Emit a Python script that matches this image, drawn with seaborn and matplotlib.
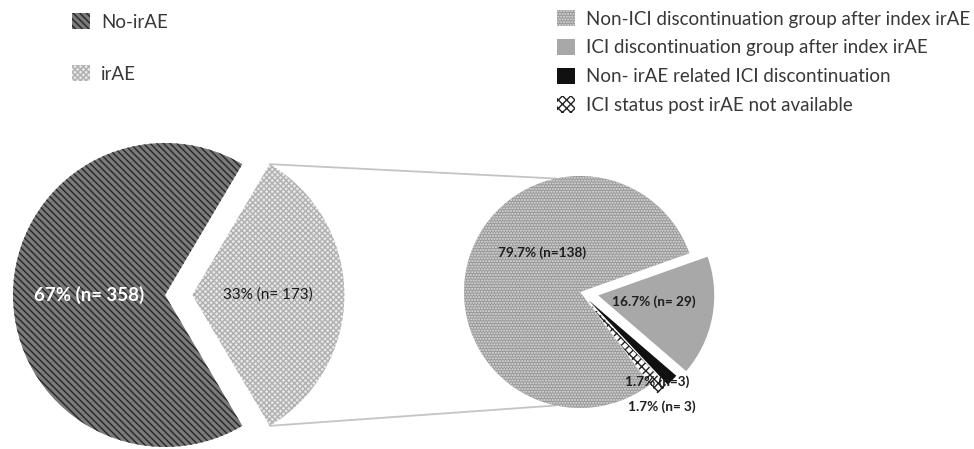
import matplotlib
matplotlib.use("Agg")
import numpy as np
import matplotlib.pyplot as plt
from matplotlib.patches import Patch
import seaborn as sns

# Overall cohort split
overall_labels = ["No-irAE", "irAE"]
overall_pct = [67, 33]
overall_n = [358, 173]

# Breakdown of the irAE group
detail_labels = [
    "Non-ICI discontinuation group after index irAE",
    "ICI discontinuation group after index irAE",
    "Non- irAE related ICI discontinuation",
    "ICI status post irAE not available",
]
detail_pct = [79.7, 16.7, 1.7, 1.7]
detail_n = [138, 29, 3, 3]
detail_gap = ["", " ", "", " "]

sns.set_theme(style="white")
plt.rcParams["font.family"] = ["Lato", "DejaVu Sans"]
plt.rcParams["hatch.linewidth"] = 1.0

# fill styles (face, hatch colour, hatch)
overall_style = [
    ("#7a7a7a", "#262626", "\\\\\\\\\\"),
    ("#e8e8e8", "#b0b0b0", "xxxxxx"),
]
detail_style = [
    ("#989898", "#dedede", "......"),
    ("#a8a8a8", "#a8a8a8", None),
    ("#111111", "#111111", None),
    ("#ffffff", "#222222", "xxxx"),
]

fig = plt.figure(figsize=(9.74, 4.49), dpi=100)
ax = fig.add_axes([0, 0, 1, 1])

# ---- main pie ----
R1 = 152
c1 = (165, 154)
start1 = 180 - 360 * overall_pct[0] / sum(overall_pct) / 2
w1, _ = ax.pie(overall_pct, center=c1, radius=R1, startangle=start1,
               explode=[0, 0.18 * R1], frame=False,
               wedgeprops=dict(linewidth=0))
for w, (fc, hc, h) in zip(w1, overall_style):
    w.set_facecolor(fc)
    w.set_edgecolor(hc)
    w.set_hatch(h)

for i, w in enumerate(w1):
    tm = np.deg2rad((w.theta1 + w.theta2) / 2)
    x = w.center[0] + 0.5 * w.r * np.cos(tm)
    y = w.center[1] + 0.5 * w.r * np.sin(tm)
    ax.text(x, y, f"{overall_pct[i]}% (n= {overall_n[i]})",
            ha="center", va="center",
            color="white" if i == 0 else "#1a1a1a",
            fontsize=13.5 if i == 0 else 11,
            fontweight="bold" if i == 0 else "normal")

# ---- breakdown pie ----
R2 = 116
c2 = (580, 157)
w2, _ = ax.pie(detail_pct, center=c2, radius=R2, startangle=-53,
               counterclock=False,
               explode=[0, 0.16 * R2, 0.1 * R2, 0.1 * R2], frame=False,
               wedgeprops=dict(linewidth=0))
for w, (fc, hc, h) in zip(w2, detail_style):
    w.set_facecolor(fc)
    w.set_edgecolor(hc)
    w.set_hatch(h)

label_pos = [(133.5, 0.47), (-7.8, 0.64), (-49.4, 1.02), (-54.5, 1.21)]
for i, (ang, d) in enumerate(label_pos):
    a = np.deg2rad(ang)
    ax.text(c2[0] + d * R2 * np.cos(a), c2[1] + d * R2 * np.sin(a),
            f"{detail_pct[i]:g}% (n={detail_gap[i]}{detail_n[i]})",
            ha="center", va="center", color="#1e1e1e",
            fontsize=9.8, fontweight="bold")

# ---- connector lines between the irAE slice and the breakdown pie ----
src = w1[1]
for ang_src, ang_dst in [(src.theta2, 102), (src.theta1, -102)]:
    a = np.deg2rad(ang_src)
    b = np.deg2rad(ang_dst)
    x0 = src.center[0] + src.r * np.cos(a)
    y0 = src.center[1] + src.r * np.sin(a)
    x1 = c2[0] + R2 * np.cos(b)
    y1 = c2[1] + R2 * np.sin(b)
    ax.plot([x0, x1], [y0, y1], color="#c4c4c4", lw=1.3, zorder=0)

ax.set_xlim(0, 974)
ax.set_ylim(0, 449)
ax.set_aspect("equal")
ax.axis("off")

# ---- legends ----
def handles(labels, styles):
    return [Patch(facecolor=fc, edgecolor=hc, hatch=h, linewidth=0, label=l)
            for l, (fc, hc, h) in zip(labels, styles)]

leg_kw = dict(frameon=False, borderpad=0, borderaxespad=0, handlelength=0.95,
              handleheight=0.95, handletextpad=0.6, fontsize=13.5,
              labelcolor="#383838")
fig.legend(handles=handles(overall_labels, overall_style), loc="upper left",
           bbox_to_anchor=(72 / 974, 1 - 13 / 449), labelspacing=1.85, **leg_kw)
fig.legend(handles=handles(detail_labels, detail_style), loc="upper left",
           bbox_to_anchor=(557 / 974, 1 - 10 / 449), labelspacing=0.6, **leg_kw)

fig.savefig("out.png", dpi=100, facecolor="white")
